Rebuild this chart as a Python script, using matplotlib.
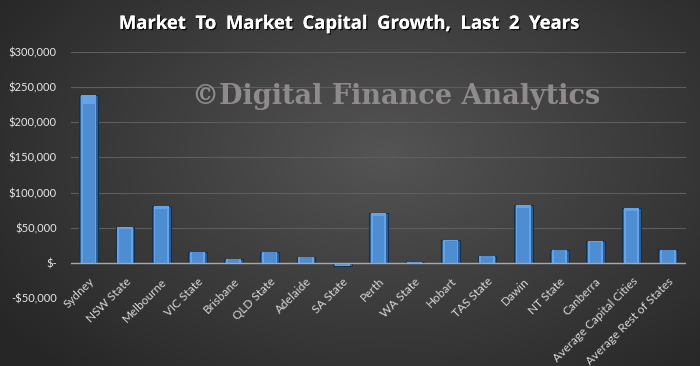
import numpy as np
import matplotlib
matplotlib.use('Agg')
import matplotlib.pyplot as plt
import matplotlib.patheffects as pe
from matplotlib.ticker import FuncFormatter
from matplotlib import font_manager

# Data
regions = ['Sydney', 'NSW State', 'Melbourne', 'VIC State', 'Brisbane', 'QLD State',
           'Adelaide', 'SA State', 'Perth', 'WA State', 'Hobart', 'TAS State',
           'Dawin', 'NT State', 'Canberra', 'Average Capital Cities',
           'Average Rest of States']
growth = [238500, 51000, 81000, 15500, 5000, 15500,
          8000, -4000, 70500, 1500, 32500, 10000,
          82500, 18500, 31000, 78000, 18500]
yticks = [-50000, 0, 50000, 100000, 150000, 200000, 250000, 300000]

names = {f.name for f in font_manager.fontManager.ttflist}
narrow = 'Liberation Sans Narrow' if 'Liberation Sans Narrow' in names else 'Lato'

fig = plt.figure(figsize=(7, 3.66), dpi=100)

# dark radial background
bg = fig.add_axes([0, 0, 1, 1], zorder=-10)
xx, yy = np.meshgrid(np.linspace(0, 1, 350), np.linspace(0, 1, 183))
r = np.sqrt(((xx - 0.55) / 0.75) ** 2 + ((yy - 0.42) / 0.9) ** 2)
shade = np.clip(0.33 - 0.2 * r, 0.15, 0.33)
bg.imshow(np.dstack([shade] * 3), aspect='auto', extent=[0, 1, 0, 1], origin='upper')
bg.axis('off')

ax = fig.add_axes([0.101, 0.186, 0.879, 0.672])
ax.set_facecolor('none')
x = np.arange(len(regions))

# bevelled bars: dark outer, blue body, lighter inner face
ax.bar(x, growth, width=0.52, color='#2e5f99', edgecolor='#16304f', linewidth=0.8, zorder=3)
ax.bar(x, growth, width=0.42, color='#64a3e6', linewidth=0, zorder=4)
ax.bar(x, np.array(growth) * 0.95, width=0.32, color='#4f8dd2', linewidth=0, zorder=5)

ax.set_xlim(-0.5, len(regions) - 0.5)
ax.set_ylim(-50000, 300000)
ax.set_yticks(yticks)

def money(v, pos):
    if v == 0:
        return '$-'
    s = '${:,.0f}'.format(abs(v))
    return '-' + s if v < 0 else s

ax.yaxis.set_major_formatter(FuncFormatter(money))
ax.grid(axis='y', color='#5e5e5e', linewidth=0.8, zorder=0)
ax.axhline(0, color='#a8a8a8', linewidth=1.0, zorder=6)
for s in ax.spines.values():
    s.set_visible(False)
ax.tick_params(length=0, colors='#e8e8e8', labelfontfamily=narrow, labelsize=8)
ax.tick_params(axis='y', pad=10)
ax.set_xticks(x)
ax.set_xticklabels(regions, rotation=45, ha='right', rotation_mode='anchor',
                   color='#d8d8d8', fontsize=8.5, family=narrow)
for lab in ax.get_xticklabels():
    lab.set_y(0.11)

fig.text(0.5, 0.935, 'Market  To  Market  Capital  Growth,  Last  2  Years',
         ha='center', va='center', color='white', fontsize=13.3, fontweight='bold',
         family='Open Sans',
         path_effects=[pe.withSimplePatchShadow(offset=(1, -1), shadow_rgbFace='#000000', alpha=0.8),
                       pe.Normal()])
fig.text(0.566, 0.736, '©Digital Finance Analytics', ha='center', va='center',
         color='#8f8b8b', fontsize=19.5, fontweight='bold', family='DejaVu Serif')

fig.savefig('out.png', dpi=100)
